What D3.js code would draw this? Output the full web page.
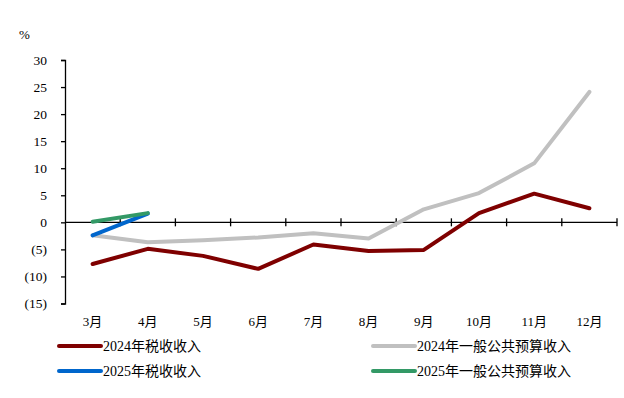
<!DOCTYPE html>
<html><head><meta charset="utf-8">
<script src="https://cdn.jsdelivr.net/npm/d3@7"></script>
<style>
html,body{margin:0;padding:0;background:#fff;}
svg text{font-family:"Liberation Serif","Noto Sans CJK SC",serif;fill:#000;}
</style></head>
<body><svg id="c" width="624" height="398"></svg>
<script>
const months = ["3月","4月","5月","6月","7月","8月","9月","10月","11月","12月"];
const yTicks = [-15,-10,-5,0,5,10,15,20,25,30];
const tax2024 = [-7.7,-4.9,-6.2,-8.6,-4.1,-5.3,-5.1,1.7,5.3,2.6];
const budget2024 = [-2.4,-3.7,-3.3,-2.8,-2.0,-3.0,2.4,5.4,10.9,24.1];
const tax2025 = [-2.4,1.6];
const budget2025 = [0.1,1.7];
const seriesNames = ["2024年税收收入","2024年一般公共预算收入","2025年税收收入","2025年一般公共预算收入"];
const seriesColors = ["#7f0000","#c0c0c0","#0066cc","#339966"];

const svg = d3.select("#c");
const x = d3.scaleBand().domain(months).range([65,617]).padding(0);
const y = d3.scaleLinear().domain([-15,30]).range([303.5,60]);
const fmt = v => v < 0 ? "(" + (-v) + ")" : String(v);

// y axis
const ya = svg.append("g").attr("transform","translate(65,0)")
  .call(d3.axisLeft(y).tickValues(yTicks).tickFormat(fmt).tickSize(4).tickPadding(14));
ya.select(".domain").attr("stroke","#000").attr("stroke-width",1.3);
ya.selectAll(".tick line").attr("stroke","#000").attr("stroke-width",1.3);
ya.selectAll(".tick text").attr("font-size",13.5).style("font-family",'"Liberation Serif","Noto Sans CJK SC",serif');

// x axis at zero
const y0 = y(0);
svg.append("line").attr("x1",65).attr("x2",617).attr("y1",y0).attr("y2",y0)
  .attr("stroke","#000").attr("stroke-width",1.3);
const bounds = months.map(m => x(m)).concat([x(months[months.length-1]) + x.bandwidth()]).slice(1);
svg.selectAll(".xt").data(bounds).enter().append("line")
  .attr("x1",d=>d).attr("x2",d=>d).attr("y1",y0-4).attr("y2",y0+4)
  .attr("stroke","#000").attr("stroke-width",1.3);
svg.selectAll(".xl").data(months).enter().append("text")
  .attr("x",d=>x(d)+x.bandwidth()/2).attr("y",326)
  .attr("text-anchor","middle").attr("font-size",13).text(d=>d);

// % label
svg.append("text").attr("x",19).attr("y",39).attr("font-size",13).text("%");

// lines
const line = d3.line().x((d,i)=>x(months[i])+x.bandwidth()/2).y(d=>y(d));
const series = [tax2024,budget2024,tax2025,budget2025];
const order = [1,0,2,3];
order.forEach(k=>{
  svg.append("path").datum(series[k]).attr("d",line).attr("fill","none")
    .attr("stroke",seriesColors[k]).attr("stroke-width",4)
    .attr("stroke-linejoin","round").attr("stroke-linecap","round");
});

// legend
const legPos = [[59,346],[373,346],[59,371],[373,371]];
seriesNames.forEach((n,i)=>{
  const [lx,ly] = legPos[i];
  svg.append("line").attr("x1",lx).attr("x2",lx+42).attr("y1",ly).attr("y2",ly)
    .attr("stroke",seriesColors[i]).attr("stroke-width",4).attr("stroke-linecap","round");
  svg.append("text").attr("x",lx+44).attr("y",ly+5).attr("font-size",14).text(n);
});
</script></body></html>
